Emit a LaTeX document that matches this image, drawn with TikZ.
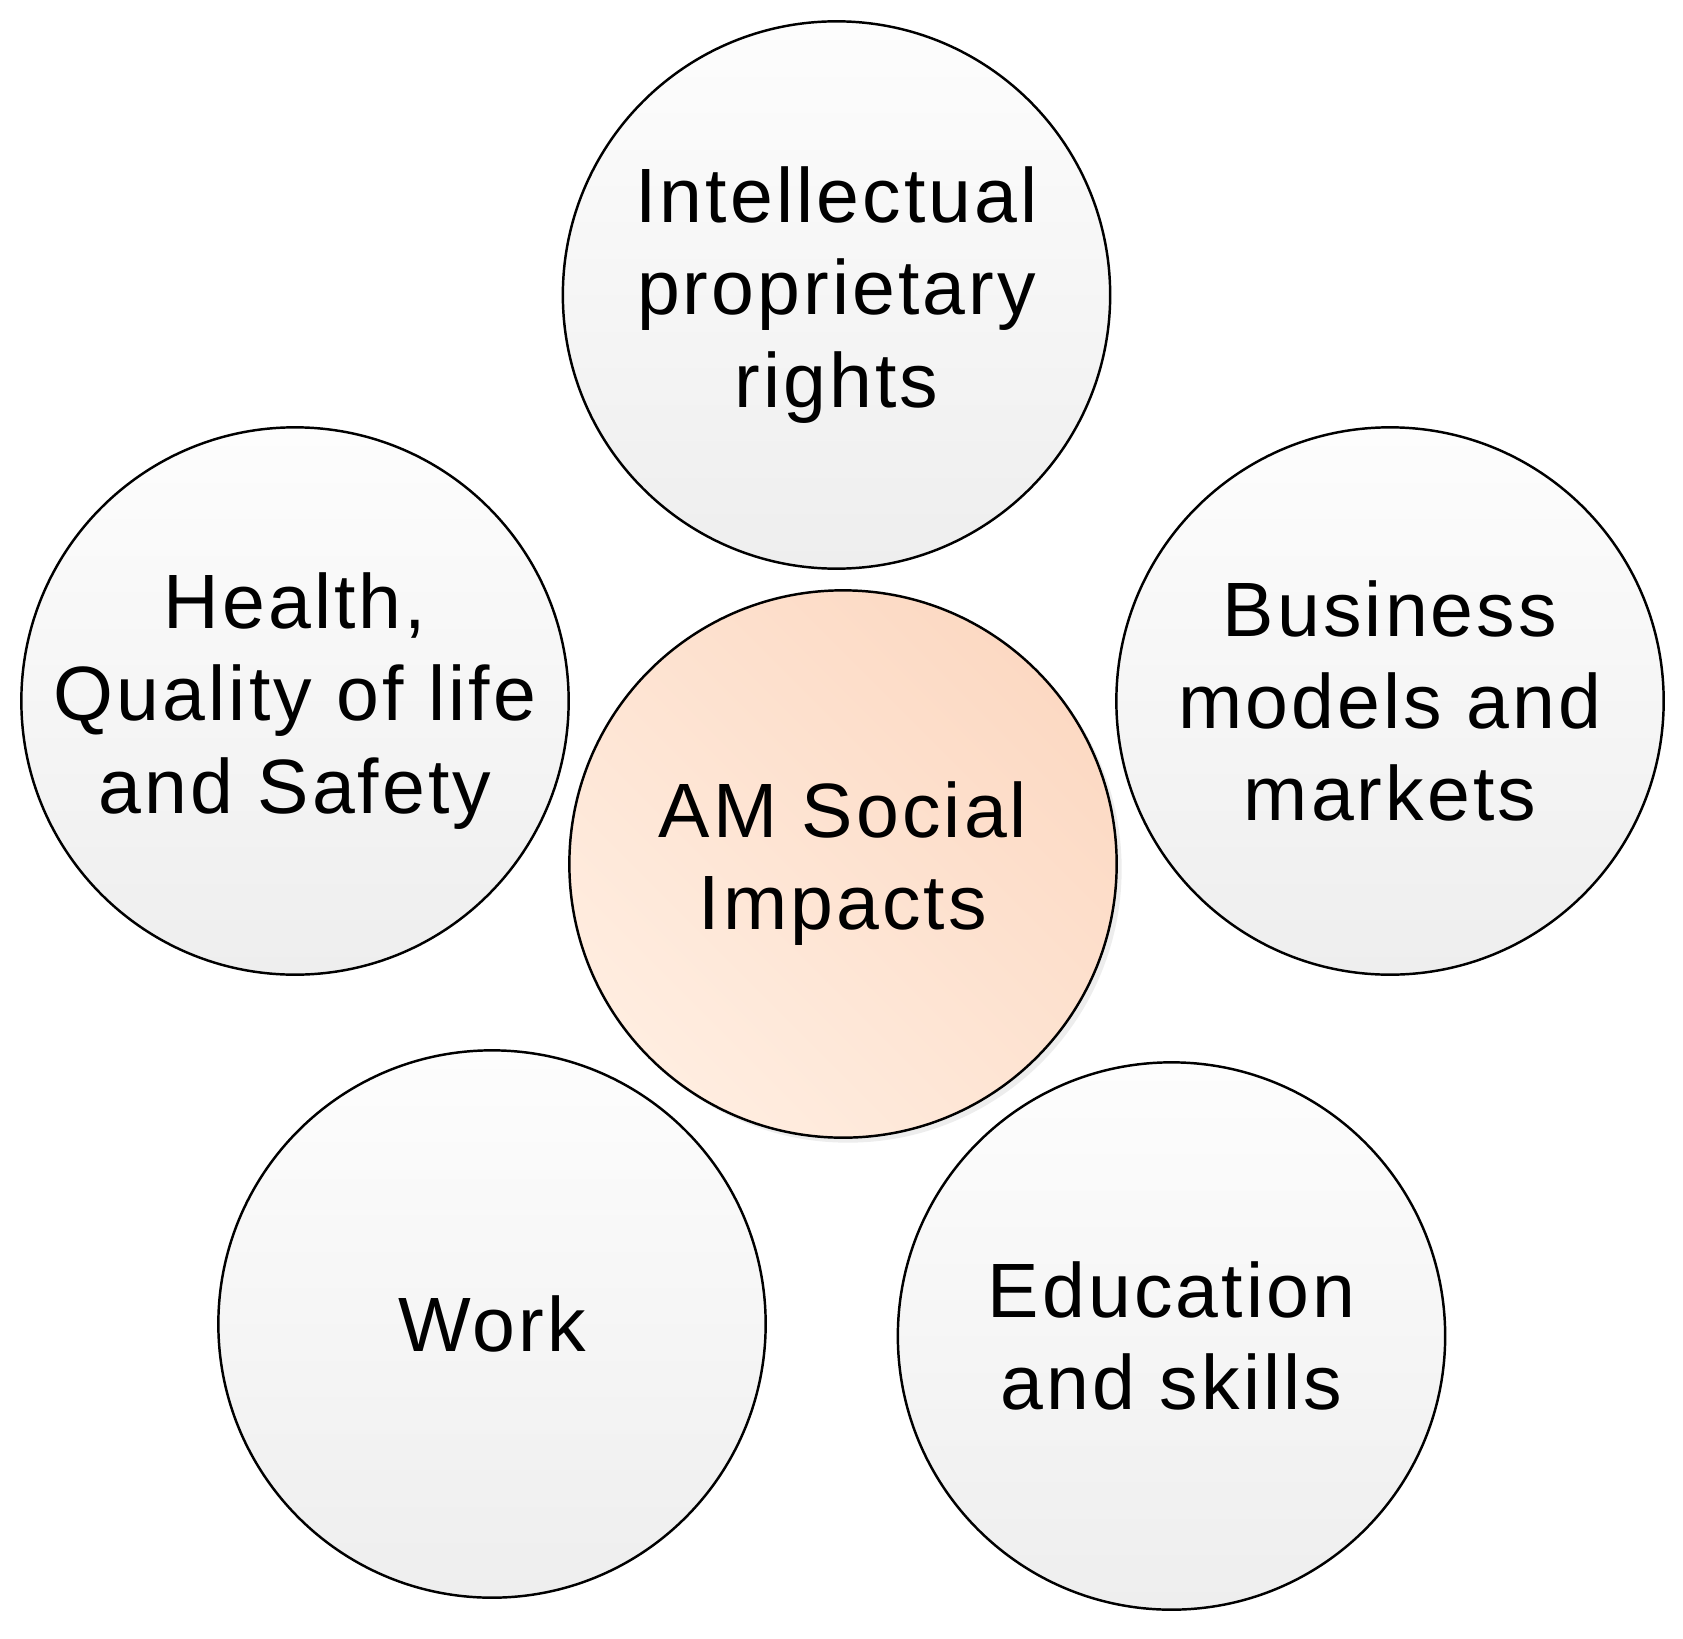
\documentclass[tikz,border=0pt]{standalone}
\usepackage{fontspec}
\setmainfont{Liberation Sans}[LetterSpace=4]
\usepackage{tikz}
\usetikzlibrary{positioning,shadows}

\definecolor{peachdark}{HTML}{FCD9C3}
\definecolor{peachlight}{HTML}{FFEDE0}
\definecolor{greytop}{HTML}{FDFDFD}
\definecolor{greybot}{HTML}{EEEEEE}

\tikzset{
    topic/.style={circle, draw=black, line width=0.7pt, minimum size=5.47cm,
        inner sep=0pt, align=center, top color=greytop, bottom color=greybot,
        font=\fontsize{21.9}{26.2}\selectfont},
    hub/.style={topic, top color=peachdark, bottom color=peachlight,
        shading angle=-45,
        drop shadow={shadow xshift=0.05cm, shadow yshift=-0.05cm, fill=black!14}}
}

\begin{document}
\begin{tikzpicture}[x=0.01cm,y=0.01cm]
        \useasboundingbox (0,0) rectangle (1683,1638);
        % Outer circles
        \node[topic] (rights) at (836.5,1343) {Intellectual\\proprietary\\rights};
        \node[topic] (health) at (295,937) {Health,\\Quality of life\\and Safety};
        \node[topic] (business) at (1390,937) {Business\\models and\\markets};
        \node[topic] (work) at (492,314) {Work};
        \node[topic] (education) at (1171.5,302) {Education\\and skills};
        % Centre circle
        \node[hub] (social) at (843,774) {AM Social\\Impacts};
    \end{tikzpicture}
\end{document}
